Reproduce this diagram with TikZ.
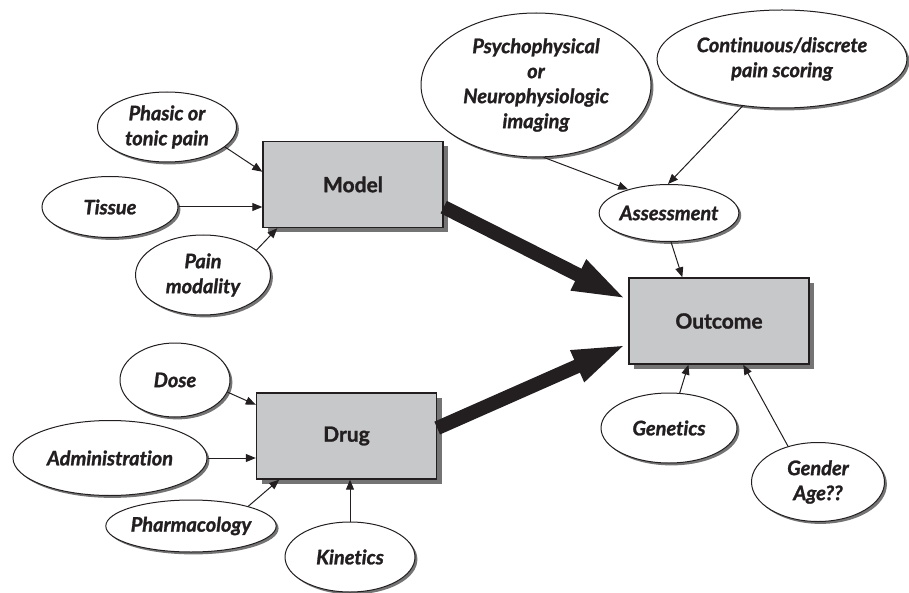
\documentclass[tikz,border=0pt]{standalone}
\usepackage{fontspec}
\newfontfamily\labelfont[Ligatures=NoCommon, BoldFeatures={FakeBold=1.3}, BoldItalicFeatures={FakeBold=1.3}]{Lato}
\usetikzlibrary{shapes.geometric,shadows,arrows.meta}
\definecolor{boxgray}{HTML}{C7C8CA}
\definecolor{shadowgray}{HTML}{747474}
\definecolor{inkblack}{HTML}{231F20}
\begin{document}
\begin{tikzpicture}[x=0.5pt, y=-0.5pt,
    factor/.style={ellipse, draw=inkblack, line width=0.5pt, fill=white, inner sep=0pt,
        align=center, text=inkblack,
        font=\labelfont\fontsize{10}{12.5}\selectfont\bfseries\itshape,
        drop shadow={shadow xshift=1.2pt, shadow yshift=-1.2pt, fill=shadowgray, opacity=1}},
    block/.style={rectangle, draw=inkblack, line width=0.7pt, fill=boxgray, inner sep=0pt,
        minimum width=90pt, minimum height=43pt, text=inkblack,
        font=\labelfont\fontsize{10.5}{12}\selectfont\bfseries,
        drop shadow={shadow xshift=2.5pt, shadow yshift=-2.5pt, fill=shadowgray, opacity=1}},
    link/.style={-{Triangle[length=5pt, width=4pt]}, draw=inkblack, line width=0.5pt},
    flow/.style={-{Triangle[length=28pt, width=15pt]}, draw=inkblack, line width=7pt}]
    \useasboundingbox (0,0) rectangle (909,593);

    % Kasten
    \node[block] (model) at (353,184.5) {Model};
    \node[block] (drug) at (346.5,436) {Drug};
    \node[block] (outcome) at (719,321) {Outcome};

    % Einflussfaktoren Modell
    \node[factor, minimum width=69.5pt, minimum height=35pt] (phasic) at (167,127) {Phasic or\\tonic pain};
    \node[factor, minimum width=68pt, minimum height=30.5pt] (tissue) at (110,207) {Tissue};
    \node[factor, minimum width=67.5pt, minimum height=40pt] (modality) at (203,275) {Pain\\modality};

    % Bewertung
    \node[factor, minimum width=115pt, minimum height=72pt] (psycho) at (536,85) {Psychophysical\\or\\Neurophysiologic\\imaging};
    \node[factor, minimum width=125pt, minimum height=49pt] (scoring) at (782,59) {Continuous/discrete\\pain scoring};
    \node[factor, minimum width=67.5pt, minimum height=28.5pt] (assess) at (669,213) {Assessment};

    % Einflussfaktoren Medikament
    \node[factor, minimum width=55pt, minimum height=37pt] (dose) at (175,380) {Dose};
    \node[factor, minimum width=97pt, minimum height=37.5pt] (admin) at (110,458) {Administration};
    \node[factor, minimum width=84pt, minimum height=26pt] (pharma) at (191,526) {Pharmacology};
    \node[factor, minimum width=65pt, minimum height=35pt] (kinetics) at (350,557) {Kinetics};

    % Patient
    \node[factor, minimum width=68pt, minimum height=35pt] (genetics) at (669,428) {Genetics};
    \node[factor, minimum width=66.5pt, minimum height=39.5pt] (gender) at (818,482) {Gender\\Age??};

    % duenne Pfeile
    \draw[link] (phasic.-19) -- (model.172);
    \draw[link] (tissue.east) -- (tissue.east -| model.west);
    \draw[link] (modality.25) -- (model.210);
    \draw[link] (psycho.-84) -- (assess.150);
    \draw[link] (scoring.230) -- (assess.92);
    \draw[link] (assess.-86) -- (outcome.130);
    \draw[link] (dose.-13) -- (drug.161);
    \draw[link] (admin.east) -- (admin.east -| drug.west);
    \draw[link] (pharma.19) -- (drug.213);
    \draw[link] (kinetics.north) -- (kinetics.north |- drug.south);
    \draw[link] (genetics.73) -- (outcome.235);
    \draw[link] (gender.130) -- (outcome.-61);

    % dicke Pfeile
    \draw[flow] (model.-14) -- (outcome.167);
    \draw[flow] (drug.5) -- (outcome.194);
\end{tikzpicture}
\end{document}
